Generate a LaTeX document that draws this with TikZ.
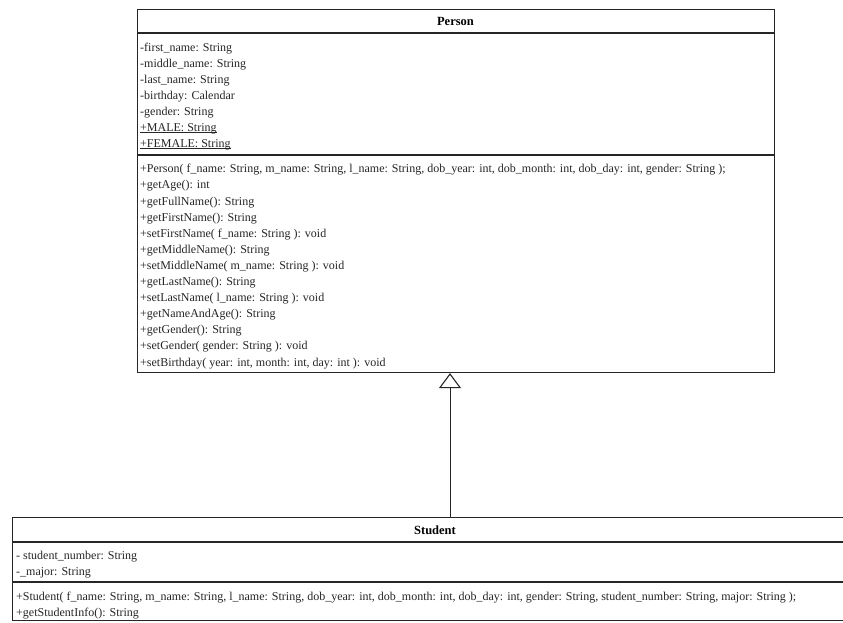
\documentclass[tikz,border=0pt]{standalone}
\usepackage{fontspec}
\setmainfont{Liberation Serif}
\usetikzlibrary{arrows.meta}
\begin{document}
\begin{tikzpicture}[x=1pt,y=-1pt,
  umlbox/.style={draw=black!85, line width=1.1pt, inner sep=0pt, anchor=north west},
  sepline/.style={draw=black!85, line width=1.1pt},
  member/.style={anchor=west, inner sep=0pt, text=black!85, font=\fontsize{12}{15}\selectfont},
  staticline/.style={draw=black!85, line width=0.6pt},
  classname/.style={inner sep=0pt, text=black, font=\fontsize{12.5}{15}\selectfont\bfseries},
  inherit/.style={draw=black!85, line width=1pt, -{Triangle[open, length=15pt, width=22pt, line width=1.1pt]}}
]
\useasboundingbox (0,0) rectangle (843,622);
\clip (0,0) rectangle (843,622);
\fill[white] (0,0) rectangle (843,622);

% ---------- class Person ----------
\node[umlbox, minimum width=637pt, minimum height=363pt] (person) at (137,9) {};
\node[classname] (personname) at (455.5,21) {Person};
\draw[sepline] (person.west |- 0,33) -- (person.east |- 0,33);
\draw[sepline] (person.west |- 0,155) -- (person.east |- 0,155);

\node[member] (pa1) at (140,49)  {-first\_name: String};
\node[member] (pa2) at (140,65)  {-middle\_name: String};
\node[member] (pa3) at (140,81)  {-last\_name: String};
\node[member] (pa4) at (140,97)  {-birthday: Calendar};
\node[member] (pa5) at (140,113) {-gender: String};
\node[member] (pa6) at (140,129) {+MALE: String};
\node[member] (pa7) at (140,145) {+FEMALE: String};
% static members are underlined
\draw[staticline] ([yshift=1.8pt]pa6.south west) -- ([yshift=1.8pt]pa6.south east);
\draw[staticline] ([yshift=1.8pt]pa7.south west) -- ([yshift=1.8pt]pa7.south east);

\node[member] (pm1)  at (140,170.0) {+Person( f\_name: String, m\_name: String, l\_name: String, dob\_year: int, dob\_month: int, dob\_day: int, gender: String );};
\node[member] (pm2)  at (140,186.1) {+getAge(): int};
\node[member] (pm3)  at (140,202.2) {+getFullName(): String};
\node[member] (pm4)  at (140,218.3) {+getFirstName(): String};
\node[member] (pm5)  at (140,234.4) {+setFirstName( f\_name: String ): void};
\node[member] (pm6)  at (140,250.5) {+getMiddleName(): String};
\node[member] (pm7)  at (140,266.6) {+setMiddleName( m\_name: String ): void};
\node[member] (pm8)  at (140,282.7) {+getLastName(): String};
\node[member] (pm9)  at (140,298.8) {+setLastName( l\_name: String ): void};
\node[member] (pm10) at (140,314.9) {+getNameAndAge(): String};
\node[member] (pm11) at (140,331.0) {+getGender(): String};
\node[member] (pm12) at (140,347.1) {+setGender( gender: String ): void};
\node[member] (pm13) at (140,363.2) {+setBirthday( year: int, month: int, day: int ): void};

% ---------- class Student ----------
\node[umlbox, minimum width=846pt, minimum height=103pt] (student) at (12,517) {};
\node[classname] (studentname) at (435,530) {Student};
\draw[sepline] (student.west |- 0,542) -- (student.east |- 0,542);
\draw[sepline] (student.west |- 0,582) -- (student.east |- 0,582);

\node[member] (sa1) at (16,557) {- student\_number: String};
\node[member] (sa2) at (16,573) {-\_major: String};

\node[member] (sm1) at (16,598) {+Student( f\_name: String, m\_name: String, l\_name: String, dob\_year: int, dob\_month: int, dob\_day: int, gender: String, student\_number: String, major: String );};
\node[member] (sm2) at (16,614) {+getStudentInfo(): String};

% ---------- generalization ----------
\coordinate (axis) at (450,0);
\draw[inherit] (student.north -| axis) -- (person.south -| axis);
\end{tikzpicture}
\end{document}
